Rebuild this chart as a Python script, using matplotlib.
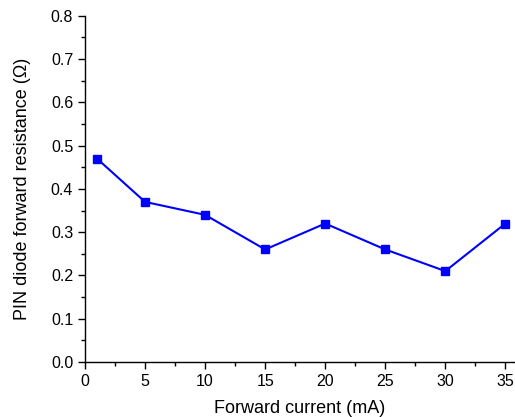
import matplotlib
matplotlib.use('Agg')
import matplotlib.pyplot as plt
from matplotlib.ticker import MultipleLocator

current = [1, 5, 10, 15, 20, 25, 30, 35]
resistance = [0.47, 0.37, 0.34, 0.26, 0.32, 0.26, 0.21, 0.32]

plt.rcParams['font.family'] = ['Liberation Sans', 'DejaVu Sans']

fig = plt.figure(figsize=(5.15, 4.17), dpi=100)
ax = fig.add_axes([0.165, 0.132, 0.835, 0.83])

ax.plot(current, resistance, color='#0000ff', marker='s', markersize=6, linewidth=1.5, clip_on=False)

ax.set_xlim(0, 35.8)
ax.set_ylim(0, 0.8)
ax.xaxis.set_major_locator(MultipleLocator(5))
ax.xaxis.set_minor_locator(MultipleLocator(2.5))
ax.yaxis.set_major_locator(MultipleLocator(0.1))
ax.yaxis.set_minor_locator(MultipleLocator(0.05))
ax.yaxis.set_major_formatter(plt.FormatStrFormatter('%.1f'))

for s in ['top', 'right']:
    ax.spines[s].set_visible(False)
for s in ['left', 'bottom']:
    ax.spines[s].set_linewidth(1.0)

ax.tick_params(which='major', direction='out', length=5, width=1, labelsize=11.5)
ax.tick_params(which='minor', direction='out', length=3, width=1)

ax.set_xlabel('Forward current (mA)', fontsize=13, labelpad=8)
ax.set_ylabel('PIN diode forward resistance (\u03a9)', fontsize=13, labelpad=14)

plt.savefig('out.png', dpi=100)
